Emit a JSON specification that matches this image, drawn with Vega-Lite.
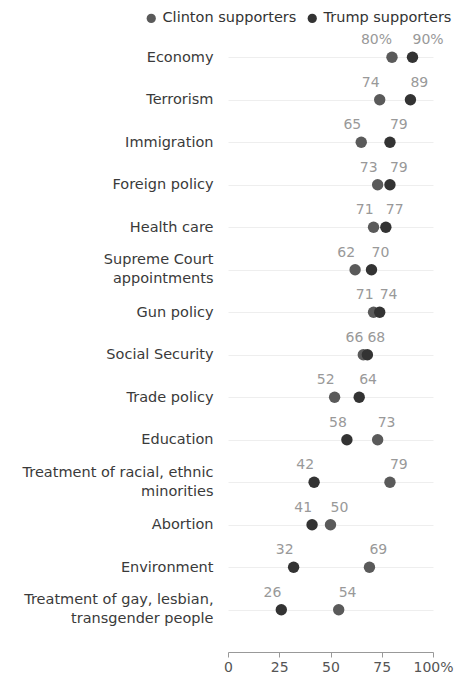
{
  "$schema": "https://vega.github.io/schema/vega-lite/v6.json",
  "width": 205,
  "height": 595,
  "autosize": {"type": "none"},
  "padding": {"left": 228, "top": 36, "right": 24, "bottom": 50},
  "config": {"font": "DejaVu Sans", "view": {"stroke": null}},
  "data": {
    "values": [
      {"issue": "Economy", "group": "Clinton supporters", "value": 80, "label": "80%"},
      {"issue": "Economy", "group": "Trump supporters", "value": 90, "label": "90%"},
      {"issue": "Terrorism", "group": "Clinton supporters", "value": 74, "label": "74"},
      {"issue": "Terrorism", "group": "Trump supporters", "value": 89, "label": "89"},
      {"issue": "Immigration", "group": "Clinton supporters", "value": 65, "label": "65"},
      {"issue": "Immigration", "group": "Trump supporters", "value": 79, "label": "79"},
      {"issue": "Foreign policy", "group": "Clinton supporters", "value": 73, "label": "73"},
      {"issue": "Foreign policy", "group": "Trump supporters", "value": 79, "label": "79"},
      {"issue": "Health care", "group": "Clinton supporters", "value": 71, "label": "71"},
      {"issue": "Health care", "group": "Trump supporters", "value": 77, "label": "77"},
      {"issue": "Supreme Court|appointments", "group": "Clinton supporters", "value": 62, "label": "62"},
      {"issue": "Supreme Court|appointments", "group": "Trump supporters", "value": 70, "label": "70"},
      {"issue": "Gun policy", "group": "Clinton supporters", "value": 71, "label": "71"},
      {"issue": "Gun policy", "group": "Trump supporters", "value": 74, "label": "74"},
      {"issue": "Social Security", "group": "Clinton supporters", "value": 66, "label": "66"},
      {"issue": "Social Security", "group": "Trump supporters", "value": 68, "label": "68"},
      {"issue": "Trade policy", "group": "Clinton supporters", "value": 52, "label": "52"},
      {"issue": "Trade policy", "group": "Trump supporters", "value": 64, "label": "64"},
      {"issue": "Education", "group": "Clinton supporters", "value": 73, "label": "73"},
      {"issue": "Education", "group": "Trump supporters", "value": 58, "label": "58"},
      {"issue": "Treatment of racial, ethnic|minorities", "group": "Clinton supporters", "value": 79, "label": "79"},
      {"issue": "Treatment of racial, ethnic|minorities", "group": "Trump supporters", "value": 42, "label": "42"},
      {"issue": "Abortion", "group": "Clinton supporters", "value": 50, "label": "50"},
      {"issue": "Abortion", "group": "Trump supporters", "value": 41, "label": "41"},
      {"issue": "Environment", "group": "Clinton supporters", "value": 69, "label": "69"},
      {"issue": "Environment", "group": "Trump supporters", "value": 32, "label": "32"},
      {"issue": "Treatment of gay, lesbian,|transgender people", "group": "Clinton supporters", "value": 54, "label": "54"},
      {"issue": "Treatment of gay, lesbian,|transgender people", "group": "Trump supporters", "value": 26, "label": "26"}
    ]
  },
  "encoding": {
    "y": {
      "field": "issue",
      "type": "nominal",
      "sort": ["Economy", "Terrorism", "Immigration", "Foreign policy", "Health care", "Supreme Court|appointments", "Gun policy", "Social Security", "Trade policy", "Education", "Treatment of racial, ethnic|minorities", "Abortion", "Environment", "Treatment of gay, lesbian,|transgender people"],
      "scale": {"type": "point", "padding": 0.5},
      "axis": {
        "title": null,
        "domain": false,
        "ticks": false,
        "labelPadding": 15,
        "labelFontSize": 14.5,
        "labelColor": "#3a3a3a",
        "labelLimit": 260,
        "labelExpr": "split(datum.label, '|')",
        "labelLineHeight": 19,
        "labelOffset": {"condition": {"test": "indexof(datum.label, '|') >= 0", "value": -10}, "value": 0},
        "grid": true,
        "gridColor": "#eeeeee"
      }
    },
    "x": {
      "field": "value",
      "type": "quantitative",
      "scale": {"domain": [0, 100]},
      "axis": {
        "title": null,
        "grid": false,
        "values": [0, 25, 50, 75, 100],
        "labelExpr": "datum.value == 100 ? '100%' : datum.label",
        "labelFlush": false,
        "domainColor": "#999999",
        "tickColor": "#999999",
        "tickSize": 5,
        "offset": 21,
        "labelColor": "#555555",
        "labelFontSize": 14,
        "labelPadding": 3
      }
    }
  },
  "layer": [
    {
      "mark": {"type": "circle", "size": 130, "opacity": 1},
      "encoding": {
        "color": {
          "field": "group",
          "type": "nominal",
          "scale": {"domain": ["Clinton supporters", "Trump supporters"], "range": ["#5a5a5a", "#333333"]},
          "legend": {
            "title": null,
            "orient": "none",
            "direction": "horizontal",
            "legendX": -84,
            "legendY": -25,
            "symbolType": "circle",
            "symbolSize": 85,
            "symbolOpacity": 1,
            "labelFontSize": 14.5,
            "labelColor": "#333333",
            "labelOffset": 4,
            "columnPadding": 8
          }
        }
      }
    },
    {
      "transform": [
        {"joinaggregate": [{"op": "min", "field": "value", "as": "minv"}], "groupby": ["issue"]},
        {"filter": "datum.value == datum.minv"}
      ],
      "mark": {"type": "text", "align": "right", "baseline": "middle", "dy": -17, "color": "#999999", "fontSize": 14},
      "encoding": {"text": {"field": "label"}}
    },
    {
      "transform": [
        {"joinaggregate": [{"op": "min", "field": "value", "as": "minv"}], "groupby": ["issue"]},
        {"filter": "datum.value > datum.minv"}
      ],
      "mark": {"type": "text", "align": "left", "baseline": "middle", "dy": -17, "color": "#999999", "fontSize": 14},
      "encoding": {"text": {"field": "label"}}
    }
  ]
}
